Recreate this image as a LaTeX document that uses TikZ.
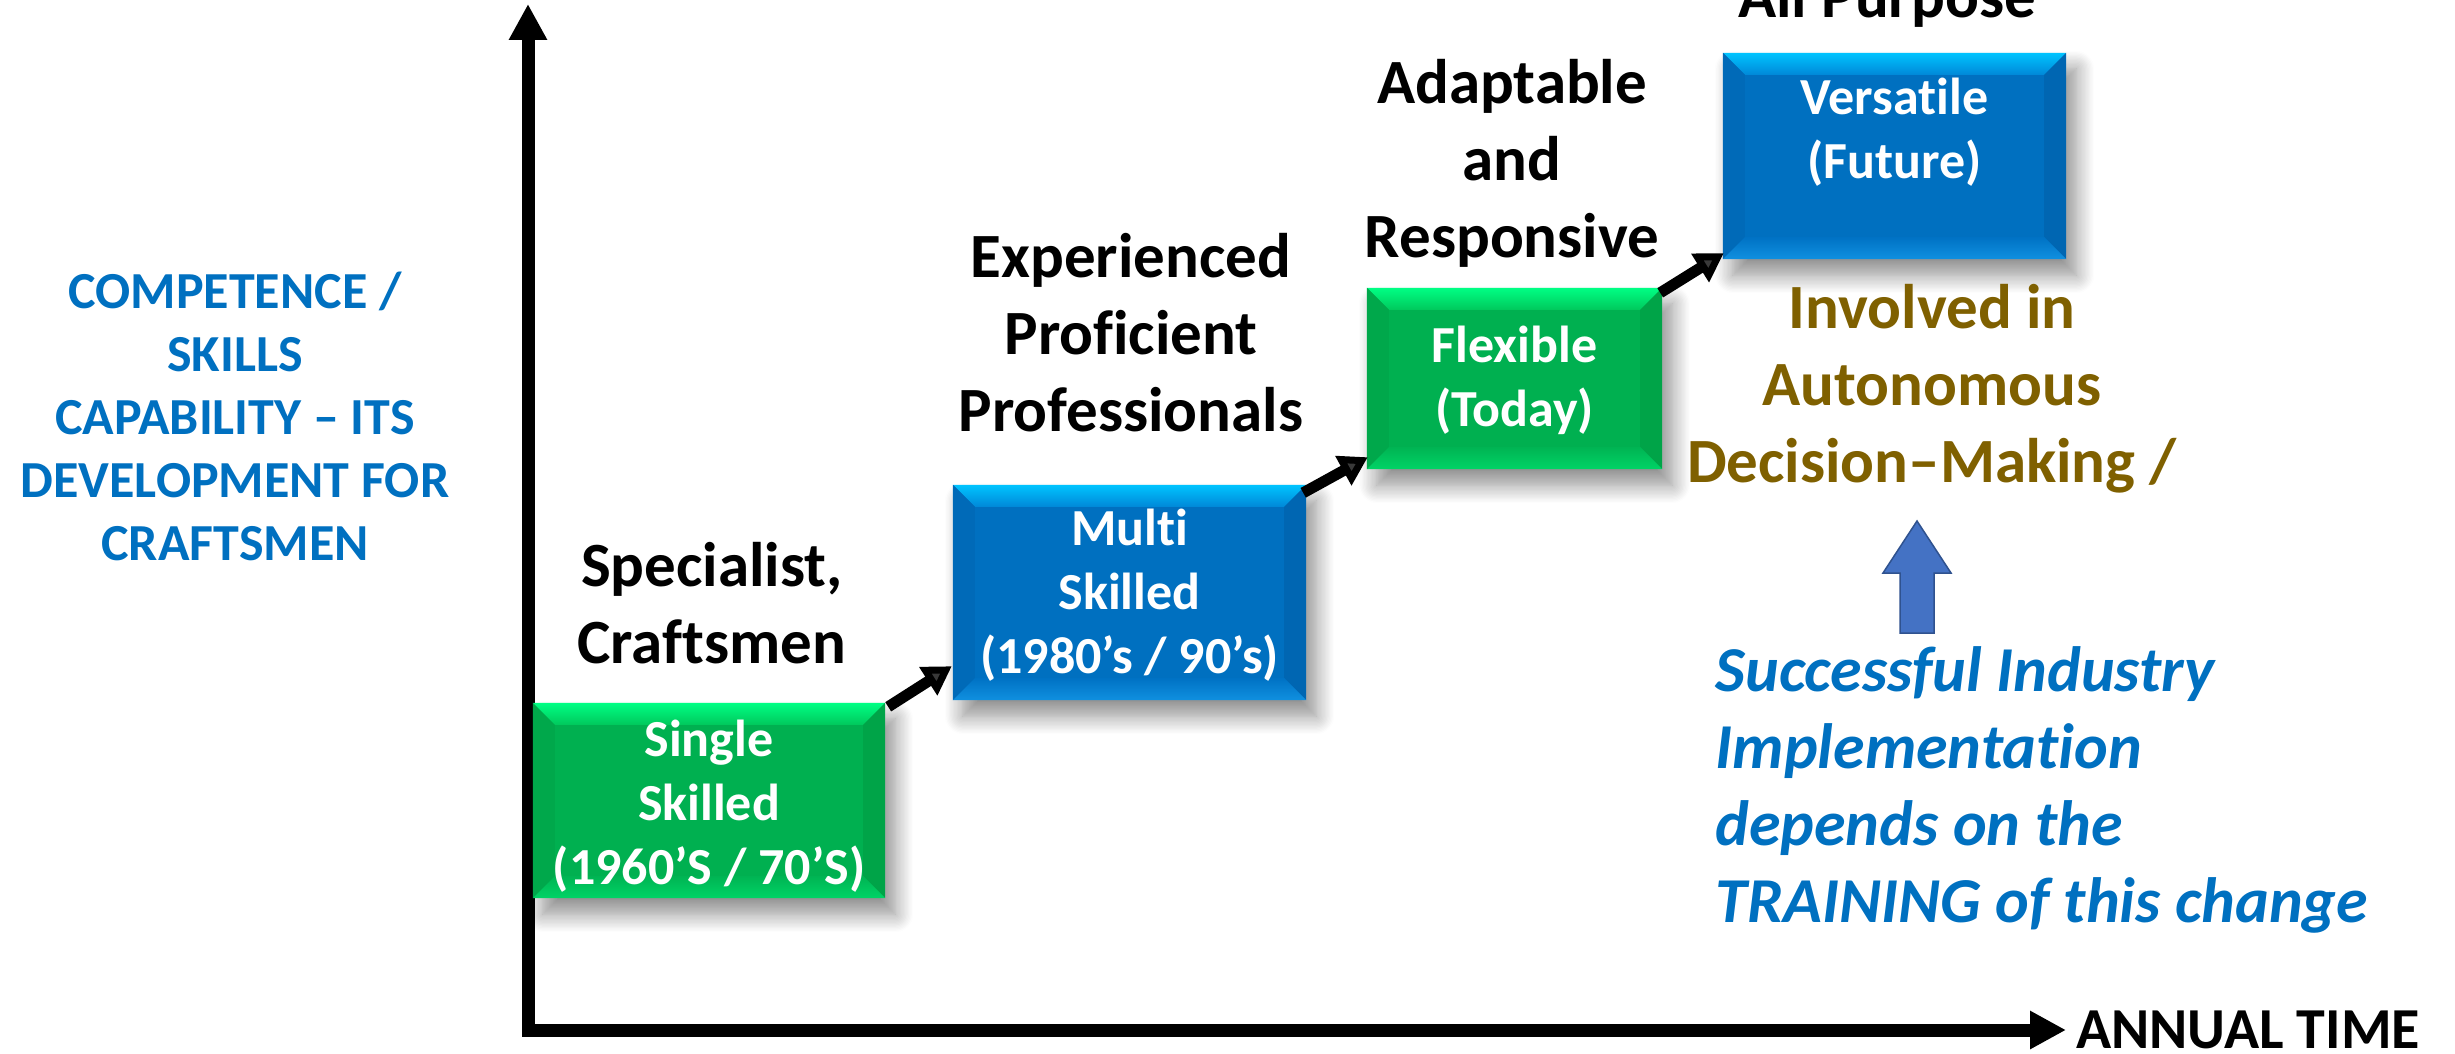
\documentclass[tikz,border=0pt]{standalone}
\usepackage{fontspec}
\setmainfont{Carlito}[Ligatures=NoCommon]
\usetikzlibrary{arrows.meta,calc,shadows.blur}
\definecolor{grface}{HTML}{00B050}
\definecolor{grtt}{HTML}{00FF84}
\definecolor{grtb}{HTML}{00C85C}
\definecolor{grl}{HTML}{00A84B}
\definecolor{grr}{HTML}{00A448}
\definecolor{grbt}{HTML}{00B453}
\definecolor{grbb}{HTML}{00D466}
\definecolor{blface}{HTML}{0070C0}
\definecolor{bltt}{HTML}{00C4FF}
\definecolor{bltb}{HTML}{0088D8}
\definecolor{bll}{HTML}{006AB8}
\definecolor{blr}{HTML}{0066B2}
\definecolor{blbt}{HTML}{0072C4}
\definecolor{blbb}{HTML}{1090E0}
\definecolor{txtblue}{HTML}{0070C0}
\definecolor{txtbrown}{HTML}{7F6000}
\definecolor{arrfill}{HTML}{4472C4}
\definecolor{arrline}{HTML}{2F528F}
\newcommand\fsz[2]{\fontsize{#1}{#2}\selectfont}
\newcommand\bevelbox[2]{%
  \fill[bshadow, white] (#1.north west) rectangle (#1.south east);
  \fill[#2face] (#1.north west) rectangle (#1.south east);
  \shade[top color=#2tt, bottom color=#2tb] (#1.north west) -- (#1.north east) -- ($(#1.north east)+(-22,22)$) -- ($(#1.north west)+(22,22)$) -- cycle;
  \fill[#2l] (#1.north west) -- ($(#1.north west)+(22,22)$) -- ($(#1.south west)+(22,-22)$) -- (#1.south west) -- cycle;
  \fill[#2r] (#1.north east) -- ($(#1.north east)+(-22,22)$) -- ($(#1.south east)+(-22,-22)$) -- (#1.south east) -- cycle;
  \shade[top color=#2bt, bottom color=#2bb] (#1.south west) -- ($(#1.south west)+(22,-22)$) -- ($(#1.south east)+(-22,-22)$) -- (#1.south east) -- cycle;
}
\begin{document}
\begin{tikzpicture}[x=1pt,y=-1pt,
  bshadow/.style={blur shadow={shadow xshift=10pt, shadow yshift=-16pt, shadow blur radius=18pt, shadow blur steps=14, shadow opacity=45}},
  boxn/.style={rectangle, inner sep=0pt},
  boxtext/.style={text=white, align=center, font=\fsz{52}{64}\bfseries},
  label/.style={text=black, align=center, font=\fsz{63}{77}\bfseries},
  conn/.style={line width=11pt, -{Triangle[width=32pt,length=28pt]}},
  axis/.style={line width=13pt, -{Triangle[width=36pt,length=36pt]}},
  ]
\useasboundingbox (0,0) rectangle (2455,1054);

% axes
\coordinate (O) at (528,1030);
\coordinate (Ytop) at (528,4);
\node[anchor=west, inner sep=0pt, font=\fsz{58}{70}\bfseries] (xl) at (2076,1030) {ANNUAL TIME};
\draw[axis] ($(O)+(0,6)$) -- (Ytop);
\draw[axis] ($(O)+(-6,0)$) -- ($(xl.west)+(-10,0)$);

% y-axis label
\node[text=txtblue, align=center, font=\fsz{52}{63}\bfseries] (ylab) at (235,416)
  {COMPETENCE /\\SKILLS\\CAPABILITY -- ITS\\DEVELOPMENT FOR\\CRAFTSMEN};

% boxes
\node[boxn, minimum width=352pt, minimum height=195pt] (b1) at (709,800.5) {};
\node[boxn, minimum width=353pt, minimum height=215pt] (b2) at (1129.5,592.5) {};
\node[boxn, minimum width=295pt, minimum height=181pt] (b3) at (1514.5,378.5) {};
\node[boxn, minimum width=343pt, minimum height=206pt] (b4) at (1894.5,156) {};
\bevelbox{b1}{gr}
\bevelbox{b2}{bl}
\bevelbox{b3}{gr}
\bevelbox{b4}{bl}

\node[boxtext] (t1) at (709,806) {Single\\Skilled\\(1960’S / 70’S)};
\node[boxtext] (t2) at (1129.5,595) {Multi\\Skilled\\(1980’s / 90’s)};
\node[boxtext] (t3) at (1514.5,380) {Flexible\\(Today)};
\node[boxtext] (t4) at (1894.5,132) {Versatile\\(Future)};

% connectors
\draw[conn] ($(b1.north east)+(3,4)$) -- ($(b2.south west)+(-1,-34)$);
\draw[conn] ($(b2.north east)+(-3,8)$) -- ($(b3.south west)+(1,-12)$);
\draw[conn] ($(b3.north east)+(-2,5)$) -- ($(b4.south west)+(1,-6)$);

% labels
\node[label] (l1) at (712,603) {Specialist,\\Craftsmen};
\node[label] (l2) at (1131,333) {Experienced\\Proficient\\Professionals};
\node[label] (l3) at (1512,163) {Adaptable\\and\\Responsive};
\node[label, anchor=base] (l4) at (1887,18) {All Purpose};

% right side
\node[text=txtbrown, align=center, font=\fsz{63}{77}\bfseries] (inv) at (1932,389)
  {Involved in\\Autonomous\\Decision--Making /};
\draw[fill=arrfill, draw=arrline, line width=1.5pt, line join=miter]
  (1917,521) -- (1951,573) -- (1934,573) -- (1934,633) -- (1900,633) -- (1900,573) -- (1883,573) -- cycle;
\node[text=txtblue, align=left, anchor=west, font=\fsz{64}{77}\bfseries\itshape] (succ) at (1712,790)
  {Successful Industry\\Implementation\\depends on the\\TRAINING of this change};
\end{tikzpicture}
\end{document}
